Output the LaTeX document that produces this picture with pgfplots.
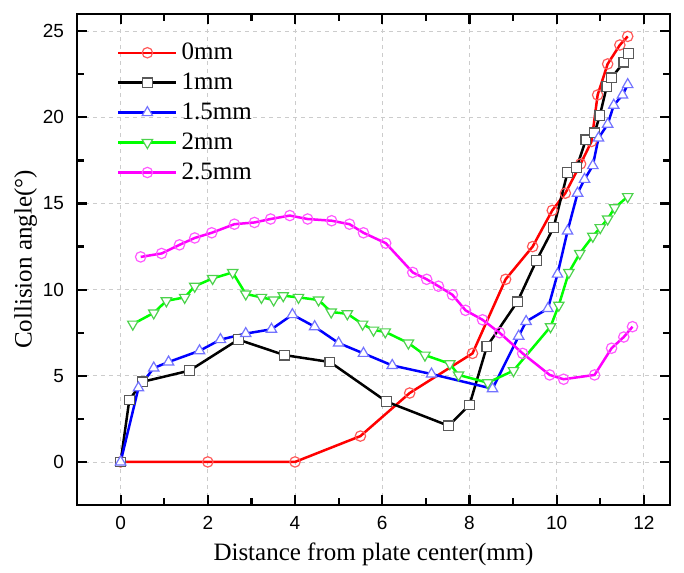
\documentclass[border=0pt]{standalone}
\usepackage{fontspec}
\setmainfont{Liberation Serif}
\newfontfamily\ticksans{Liberation Sans}
\usepackage{pgfplots}
\pgfplotsset{compat=1.18}

\definecolor{cred}{RGB}{255,0,0}
\definecolor{cblue}{RGB}{0,0,255}
\definecolor{cgreen}{RGB}{0,255,0}
\definecolor{cmag}{RGB}{255,0,255}

\begin{document}
\begin{tikzpicture}
\begin{axis}[
    scale only axis,
    width=296.5pt, height=245.5pt,
    xmin=-1, xmax=12.6,
    ymin=-2.5, ymax=26,
    xtick={0,2,...,12},
    ytick={0,5,...,25},
    minor x tick num=1,
    minor y tick num=1,
    tick align=inside,
    major tick length=5pt,
    minor tick length=3.5pt,
    axis line style={line width=1.2pt},
    every tick/.style={black, line width=1.1pt},
    xmajorgrids, ymajorgrids,
    grid style={dash pattern=on 2pt off 2pt, gray!40, line width=0.4pt},
    /pgf/number format/assume math mode=true,
    tick label style={font=\ticksans\fontsize{9.5}{10}\selectfont},
    yticklabel style={xshift=-3pt},
    xticklabel style={yshift=-2pt},
    label style={font=\fontsize{12.5}{14}\selectfont},
    xlabel={Distance from plate center(mm)},
    ylabel={Collision angle(°)},
    ylabel style={yshift=-4pt},
    legend style={draw=none, fill=none, at={(0.067,0.95)}, anchor=north west,
        font=\fontsize{12.5}{14}\selectfont, row sep=1.2pt, inner sep=0pt},
    legend cell align=left,
    legend image code/.code={
        \draw[mark repeat=2, mark phase=2, #1] plot coordinates {(0pt,0pt) (14.5pt,0pt) (29pt,0pt)};
    },
    every axis plot/.append style={line width=1.25pt},
]
\addplot[cred, mark=o, mark size=2.6pt, mark options={draw=cred!65, fill=white, line width=0.6pt}]
coordinates {(0,0)(2,0)(4,0)(5.5,1.5)(6.63,4.0)(8.07,6.3)(8.83,10.6)(9.45,12.5)(9.9,14.6)(10.2,15.6)(10.55,17.3)(10.8,18.6)(10.94,21.3)(11.17,23.1)(11.45,24.2)(11.63,24.7)};
\addlegendentry{0mm}
\addplot[black, mark=square*, mark size=2.4pt, mark options={draw=black!65, fill=white, line width=0.6pt}]
coordinates {(0,0)(0.2,3.6)(0.5,4.65)(1.58,5.3)(2.7,7.1)(3.76,6.2)(4.8,5.8)(6.1,3.5)(7.52,2.1)(8.0,3.3)(8.4,6.7)(9.1,9.3)(9.54,11.7)(9.93,13.6)(10.25,16.8)(10.46,17.1)(10.67,18.7)(10.87,19.1)(10.99,20.1)(11.15,21.8)(11.26,22.3)(11.54,23.2)(11.65,23.7)};
\addlegendentry{1mm}
\addplot[cblue, mark=triangle*, mark size=3pt, mark options={draw=cblue!55, fill=white, line width=0.6pt}]
coordinates {(0,0)(0.41,4.3)(0.76,5.45)(1.1,5.8)(1.81,6.45)(2.29,7.1)(2.87,7.45)(3.46,7.7)(3.94,8.55)(4.45,7.85)(5.0,6.9)(5.57,6.3)(6.23,5.6)(7.13,5.1)(8.53,4.25)(9.13,7.3)(9.3,8.15)(9.8,8.9)(10.02,10.9)(10.25,13.4)(10.48,15.6)(10.64,16.4)(10.83,17.2)(10.96,18.8)(11.17,19.6)(11.31,20.7)(11.51,21.3)(11.63,21.9)};
\addlegendentry{1.5mm}
\addplot[cgreen, mark=triangle*, mark size=3pt, mark options={draw=cgreen!75!black!70, fill=white, line width=0.6pt, rotate=180}]
coordinates {(0.28,8.0)(0.76,8.65)(1.05,9.35)(1.47,9.55)(1.7,10.2)(2.11,10.65)(2.57,11.0)(2.87,9.75)(3.23,9.55)(3.51,9.4)(3.73,9.65)(4.08,9.55)(4.54,9.4)(4.83,8.7)(5.2,8.6)(5.55,8.0)(5.8,7.65)(6.07,7.55)(6.6,6.9)(6.98,6.2)(7.55,5.7)(7.75,5.05)(8.42,4.6)(9.01,5.3)(9.86,7.85)(10.05,9.1)(10.28,11.0)(10.53,12.1)(10.83,13.1)(11.0,13.6)(11.17,14.1)(11.33,14.75)(11.63,15.4)};
\addlegendentry{2mm}
\addplot[cmag, mark=o, mark size=2.6pt, mark options={draw=cmag!65, fill=white, line width=0.6pt}]
coordinates {(0.46,11.9)(0.94,12.1)(1.35,12.6)(1.7,13.0)(2.09,13.3)(2.61,13.8)(3.07,13.9)(3.44,14.1)(3.88,14.3)(4.29,14.1)(4.84,14.0)(5.25,13.8)(5.57,13.3)(6.08,12.7)(6.7,11.0)(7.02,10.6)(7.29,10.2)(7.61,9.7)(7.91,8.8)(8.3,8.25)(8.69,7.5)(9.22,6.3)(9.84,5.05)(10.16,4.8)(10.87,5.05)(11.26,6.6)(11.54,7.25)(11.74,7.85)};
\addlegendentry{2.5mm}
\end{axis}
\path (current axis.south west) ++(-38.5pt,-31.5pt) (current axis.north east) ++(7pt,7pt);
\end{tikzpicture}
\end{document}
